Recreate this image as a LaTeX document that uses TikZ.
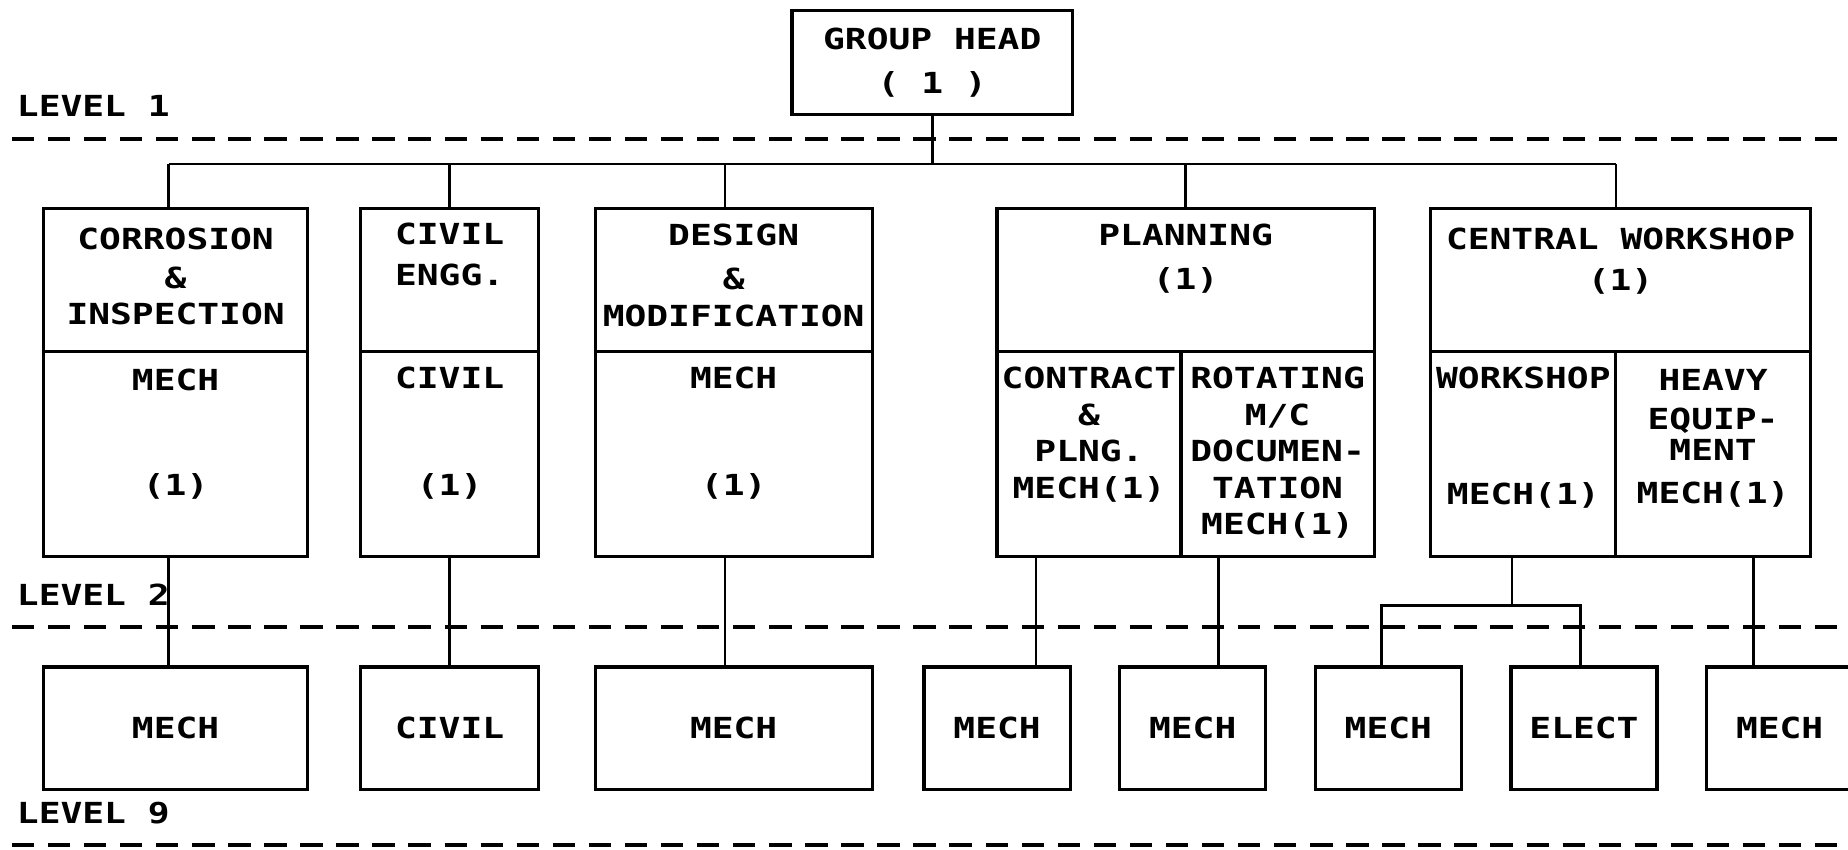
\documentclass[tikz,border=0pt]{standalone}
\usepackage{fontspec}
\newfontfamily\plotfont{DejaVu Sans Mono}[FakeStretch=1.25]
\usetikzlibrary{positioning}

\begin{document}
\begin{tikzpicture}[x=0.5pt, y=-0.5pt, auto]
    \tikzstyle{block} = [rectangle, draw, line width=1.4pt, inner sep=0pt,
        outer sep=0pt, align=center, font=\plotfont\bfseries\fontsize{12.3}{15.5}\selectfont]
    \tikzstyle{txt} = [inner sep=0pt, align=center,
        font=\plotfont\bfseries\fontsize{12.3}{15.5}\selectfont]
    \tikzstyle{line} = [draw, line width=1.1pt]
    \tikzstyle{levelline} = [draw, line width=1.7pt, dash pattern=on 9.5pt off 5.8pt]

    \useasboundingbox (0,0) rectangle (1568,721);

    % level 1
    \node [block, minimum width=119pt, minimum height=44pt] (head) at (791,53)
        {GROUP HEAD\\[3pt]( 1 )};
    \node [txt, anchor=west] (lev1) at (14,90) {LEVEL 1};
    \coordinate (d1l) at (10,118);
    \coordinate (d1r) at (1568,118);
    \path [levelline] (d1l) -- (d1r);
    %
    \coordinate (busl) at (143,139);
    \coordinate (busr) at (1371,139);
    \path [line] (head.south) -- (head.south |- busl);
    \path [line] (busl) -- (busr);

    % level 2
    \node [block, minimum width=112pt, minimum height=60.5pt] (corr) at (149,237.5) {};
    \node [block, minimum width=112pt, minimum height=87pt, below=0pt of corr] (corrstaff) {};
    \node [txt, below=8pt of corr.north] (corrtxt) {CORROSION\\[1pt]\&\\INSPECTION};
    \node [txt, below=7.5pt of corrstaff.north] (corrstafftxt) {MECH\\[29pt](1)};
    %
    \node [block, minimum width=75.5pt, minimum height=60.5pt] (civ) at (381.5,237.5) {};
    \node [block, minimum width=75.5pt, minimum height=87pt, below=0pt of civ] (civstaff) {};
    \node [txt, below=6pt of civ.north] (civtxt) {CIVIL\\[2pt]ENGG.};
    \node [txt, below=6.5pt of civstaff.north] (civstafftxt) {CIVIL\\[30pt](1)};
    %
    \node [block, minimum width=117.5pt, minimum height=60.5pt] (des) at (622.5,237.5) {};
    \node [block, minimum width=117.5pt, minimum height=87pt, below=0pt of des] (desstaff) {};
    \node [txt, below=6.5pt of des.north] (destxt) {DESIGN\\[3pt]\&\\MODIFICATION};
    \node [txt, below=6.5pt of desstaff.north] (desstafftxt) {MECH\\[30pt](1)};
    %
    \node [block, minimum width=160pt, minimum height=60.5pt] (plan) at (1006,237.5) {};
    \node [block, minimum width=78pt, minimum height=87pt,
        below right=0pt and 0pt of plan.south west] (contr) {};
    \node [block, minimum width=82pt, minimum height=87pt,
        below left=0pt and 0pt of plan.south east] (rot) {};
    \node [txt, below=6.5pt of plan.north] (plantxt) {PLANNING\\[3pt](1)};
    \node [txt, below=6.5pt of contr.north] (contrtxt) {CONTRACT\\\&\\PLNG.\\MECH(1)};
    \node [txt, below=6.5pt of rot.north] (rottxt) {ROTATING\\M/C\\DOCUMEN-\\TATION\\MECH(1)};
    %
    \node [block, minimum width=161pt, minimum height=60.5pt] (cw) at (1375,237.5) {};
    \node [block, minimum width=78.5pt, minimum height=87pt,
        below right=0pt and 0pt of cw.south west] (wsh) {};
    \node [block, minimum width=82.5pt, minimum height=87pt,
        below left=0pt and 0pt of cw.south east] (heavy) {};
    \node [txt, below=8pt of cw.north] (cwtxt) {CENTRAL WORKSHOP\\[2pt](1)};
    \node [txt, below=6.5pt of wsh.north] (wshtxt) {WORKSHOP\\[33.5pt]MECH(1)};
    \node [txt, below=7.5pt of heavy.north] (heavytxt) {HEAVY\\[1pt]EQUIP-\\[-2.5pt]MENT\\[3pt]MECH(1)};
    %
    \path [line] (busl) -- (busl |- corr.north);
    \path [line] (civ.north |- busl) -- (civ.north);
    \path [line] ([xshift=-3.75pt]des.north |- busl) -- ([xshift=-3.75pt]des.north);
    \path [line] (plan.north |- busl) -- (plan.north);
    \path [line] (busr) -- (busr |- cw.north);
    %
    \node [txt, anchor=west] (lev2) at (14,505) {LEVEL 2};
    \coordinate (d2l) at (10,532);
    \coordinate (d2r) at (1568,532);
    \path [levelline] (d2l) -- (d2r);

    % level 3
    \node [block, minimum width=112pt, minimum height=52pt] (m1) at (149,618) {MECH};
    \node [block, minimum width=75.5pt, minimum height=52pt] (civ3) at (381.5,618) {CIVIL};
    \node [block, minimum width=117.5pt, minimum height=52pt] (m3) at (622.5,618) {MECH};
    \node [block, minimum width=62pt, minimum height=52pt] (m4) at (846,618) {MECH};
    \node [block, minimum width=62pt, minimum height=52pt] (m5) at (1012,618) {MECH};
    \node [block, minimum width=62pt, minimum height=52pt] (m6) at (1178,618) {MECH};
    \node [block, minimum width=62pt, minimum height=52pt] (el) at (1344,618) {ELECT};
    \node [block, minimum width=62pt, minimum height=52pt] (m7) at (1510,618) {MECH};
    %
    \path [line] ([xshift=-3pt]corrstaff.south) -- ([xshift=-3pt]m1.north);
    \path [line] (civstaff.south) -- (civ3.north);
    \path [line] ([xshift=-3.75pt]desstaff.south) -- ([xshift=-3.75pt]m3.north);
    \path [line] ([xshift=-22.5pt]contr.south) -- ([xshift=-22.5pt]contr.south |- m4.north);
    \path [line] ([xshift=-25pt]rot.south) -- ([xshift=-25pt]rot.south |- m5.north);
    \coordinate (split) at (1283,514);
    \path [line] (split |- wsh.south) -- (split);
    \path [line] ([xshift=-3pt]m6.north) |- (split) -| ([xshift=-1.5pt]el.north);
    \path [line] ([xshift=17.25pt]heavy.south) -- ([xshift=17.25pt]heavy.south |- m7.north);
    %
    \node [txt, anchor=west] (lev3) at (14,690) {LEVEL 9};
    \coordinate (d3l) at (10,717);
    \coordinate (d3r) at (1568,717);
    \path [levelline] (d3l) -- (d3r);
\end{tikzpicture}
\end{document}
